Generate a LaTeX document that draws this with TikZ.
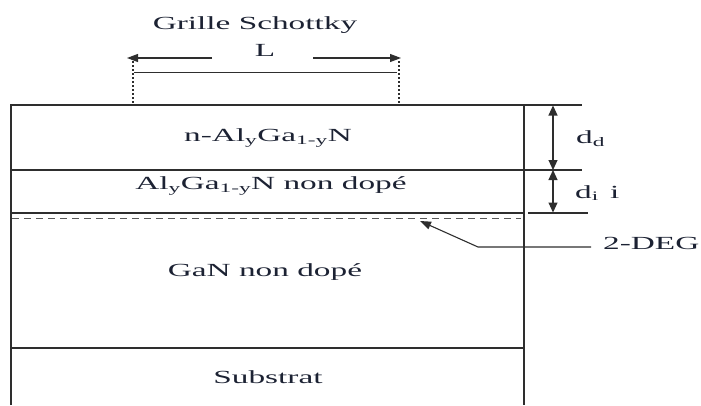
\documentclass[tikz,border=0pt]{standalone}
\usepackage{fontspec}
\setmainfont[FakeStretch=1.8]{Liberation Serif}
\usetikzlibrary{arrows.meta}
\definecolor{ink}{HTML}{2E2E2E}
\definecolor{txt}{HTML}{1C2233}
\begin{document}
\begin{tikzpicture}[x=1pt,y=-1pt,
  line/.style={draw=ink,line width=1.1pt},
  thin/.style={draw=ink,line width=0.8pt},
  lbl/.style={text=txt,font=\fontsize{18.5}{20}\selectfont,inner sep=0pt},
  tip/.style={-{Triangle[length=11pt,width=8pt]}},
  dtip/.style={{Triangle[length=10pt,width=9pt]}-{Triangle[length=10pt,width=9pt]}},
  dotline/.style={draw=ink,line width=1.6pt,dash pattern=on 1.6pt off 2.4pt},
  dashline/.style={draw=ink!80,line width=0.9pt,dash pattern=on 7pt off 5pt}]
\useasboundingbox (0,0) rectangle (701,405);

% box corners and layer boundaries
\coordinate (TL) at (11,105);
\coordinate (TR) at (524,105);
\coordinate (TX) at (582,105);
\coordinate (BL) at (11,405);
\coordinate (BR) at (524,405);
\coordinate (L1l) at (11,170);
\coordinate (L1x) at (582,170);
\coordinate (L2l) at (11,213);
\coordinate (L2r) at (524,213);
\coordinate (L2a) at (528,213);
\coordinate (L2x) at (588,213);
\coordinate (L3l) at (11,348);
\coordinate (L3r) at (524,348);
\coordinate (Dl) at (12,218);
\coordinate (Dr) at (521,218);

\draw[line] (BL) -- (TL) -- (TX);
\draw[line] (TR) -- (BR);
\draw[line] (L1l) -- (L1x);
\draw[line] (L2l) -- (L2r);
\draw[line] (L2a) -- (L2x);
\draw[line] (L3l) -- (L3r);
\draw[dashline] (Dl) -- (Dr);

% layer labels
\node[lbl] (nalgan) at (268,138) {n-Al\textsubscript{y}Ga\textsubscript{1-y}N};
\node[lbl] (algan) at (271,186) {Al\textsubscript{y}Ga\textsubscript{1-y}N non dopé};
\node[lbl] (gan) at (265,272) {GaN non dopé};
\node[lbl] (sub) at (268,377) {Substrat};

% gate
\node[lbl] (grille) at (255,25) {Grille Schottky};
\node[lbl] (L) at (265,50) {L};
\coordinate (gl1) at (212,58);
\coordinate (gl2) at (127,58);
\coordinate (gr1) at (313,58);
\coordinate (gr2) at (401,58);
\draw[line,tip] (gl1) -- (gl2);
\draw[line,tip] (gr1) -- (gr2);
\coordinate (va1) at (133,61);
\coordinate (va2) at (133,105);
\coordinate (vb1) at (399,61);
\coordinate (vb2) at (399,105);
\draw[dotline] (va1) -- (va2);
\draw[dotline] (vb1) -- (vb2);
\coordinate (ha) at (134,72);
\coordinate (hb) at (397,72);
\draw[thin] (ha) -- (hb);

% thickness dimensions
\coordinate (d1) at (553,105.5);
\coordinate (d2) at (553,170);
\coordinate (d3) at (553,212.5);
\draw[line,dtip] (d1) -- (d2);
\draw[line,dtip] (d2) -- (d3);
\node[lbl,anchor=west] (dd) at (576,139) {d\textsubscript{d}};
\node[lbl,anchor=west] (di) at (575,193) {d\textsubscript{i}\, i};

% 2-DEG leader
\node[lbl,anchor=west] (deg) at (603,243) {2-DEG};
\coordinate (e1) at (591,247);
\coordinate (e2) at (478,247);
\coordinate (e3) at (420,221);
\draw[line,tip] (e1) -- (e2) -- (e3);
\end{tikzpicture}
\end{document}
